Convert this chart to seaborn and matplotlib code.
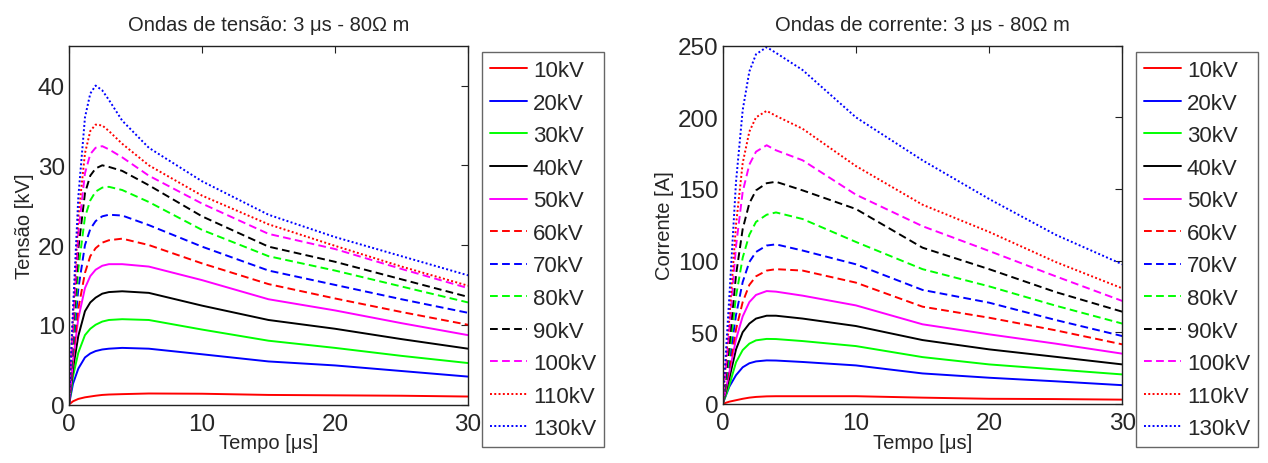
import numpy as np
import pandas as pd
import matplotlib
matplotlib.use("Agg")
import matplotlib.pyplot as plt
import seaborn as sns

# ---------------- data ----------------
labels = ["10kV", "20kV", "30kV", "40kV", "50kV", "60kV", "70kV",
          "80kV", "90kV", "100kV", "110kV", "130kV"]

# voltage waves (kV) sampled at these times (us)
t_v = [0, 0.3, 0.7, 1.2, 1.6, 2, 2.5, 3, 4, 6, 10, 15, 20, 25, 30]
v_10 = [0, 0.4, 0.7, 0.9, 1.0, 1.1, 1.2, 1.25, 1.3, 1.38, 1.35, 1.2, 1.15, 1.1, 1.0]
v_20 = [0, 2.6, 4.5, 5.9, 6.4, 6.7, 6.9, 7.0, 7.1, 7.0, 6.3, 5.4, 4.9, 4.2, 3.5]
v_30 = [0, 3.5, 6.5, 8.7, 9.5, 10.0, 10.4, 10.6, 10.7, 10.6, 9.4, 8.0, 7.1, 6.1, 5.2]
v_40 = [0, 4.5, 8.6, 11.7, 12.8, 13.4, 13.9, 14.1, 14.2, 14.0, 12.4, 10.6, 9.5, 8.2, 7.0]
v_50 = [0, 5.5, 10.8, 14.6, 16.1, 16.9, 17.4, 17.6, 17.6, 17.3, 15.6, 13.2, 11.8, 10.2, 8.7]
v_60 = [0, 6.0, 12.0, 16.5, 18.6, 19.6, 20.3, 20.6, 20.8, 20.0, 17.7, 15.1, 13.3, 11.6, 10.0]
v_70 = [0, 7.0, 14.5, 20.0, 22.0, 23.0, 23.6, 23.8, 23.7, 22.5, 19.8, 16.8, 15.0, 13.2, 11.5]
v_80 = [0, 8.0, 17.0, 23.5, 25.6, 26.7, 27.2, 27.3, 26.9, 25.4, 21.9, 18.6, 16.8, 14.8, 12.8]
v_90 = [0, 9.0, 19.5, 26.5, 28.7, 29.6, 30.0, 29.8, 29.3, 27.5, 23.6, 19.8, 17.9, 15.7, 13.5]
v_100 = [0, 10.0, 21.5, 29.0, 31.4, 32.2, 32.4, 32.0, 31.0, 28.7, 25.2, 21.4, 19.5, 17.0, 14.6]
v_110 = [0, 11.0, 23.5, 31.5, 34.3, 35.1, 35.0, 34.3, 32.7, 30.0, 26.2, 22.6, 19.9, 17.3, 14.9]
v_130 = [0, 12.0, 26.0, 36.0, 39.0, 40.0, 39.4, 38.2, 35.6, 32.2, 28.0, 23.8, 21.0, 18.6, 16.2]

# current waves (A)
t_i = [0, 0.5, 1, 1.5, 2, 2.5, 3.3, 4, 6, 10, 15, 20, 25, 30]
i_10 = [0, 1.5, 2.5, 3.5, 4.3, 4.8, 5.2, 5.3, 5.3, 5.3, 4.3, 3.5, 3.3, 2.9]
i_20 = [0, 12, 20, 25.5, 28.3, 29.6, 30.3, 30.2, 29.2, 26.8, 21.2, 18.2, 15.7, 13.0]
i_30 = [0, 13, 29, 37.5, 42, 44.3, 45.3, 45.2, 43.8, 40.3, 32.6, 27.5, 24.0, 20.5]
i_40 = [0, 18, 38, 50, 56, 59.5, 61.5, 61.5, 59.5, 54.3, 44.5, 38.0, 32.8, 27.5]
i_50 = [0, 22, 45, 61, 71, 76, 78.7, 78.3, 75.5, 68.7, 55.5, 48.5, 42.0, 35.0]
i_60 = [0, 25, 52, 71, 83, 89, 93, 94, 93, 84.6, 67.8, 60.1, 51.3, 41.5]
i_70 = [0, 30, 62, 85, 99, 106, 110.5, 111.3, 107, 97.4, 79.5, 70.6, 58.5, 47.3]
i_80 = [0, 35, 75, 102, 118, 127, 132, 133.6, 129, 113, 94, 82, 68.5, 56.0]
i_90 = [0, 42, 90, 122, 140, 149, 154, 155, 149, 136, 109, 94, 78, 64.3]
i_100 = [0, 52, 110, 148, 167, 176, 180.5, 177, 170, 146, 124, 106.7, 89, 71.8]
i_110 = [0, 60, 125, 168, 190, 200, 204.5, 201, 192, 166, 139, 120, 99, 80.6]
i_130 = [0, 75, 155, 205, 232, 244, 249, 245, 233, 200, 170, 143, 118, 97.4]

volt_series = [v_10, v_20, v_30, v_40, v_50, v_60, v_70, v_80, v_90, v_100, v_110, v_130]
curr_series = [i_10, i_20, i_30, i_40, i_50, i_60, i_70, i_80, i_90, i_100, i_110, i_130]

colors = ["#ff0000", "#0000ff", "#00ff00", "#000000", "#ff00ff"] * 2 + ["#ff0000", "#0000ff"]
styles = ["-"] * 5 + ["--"] * 5 + [":"] * 2

# ---------------- style ----------------
sns.set_style("white")
plt.rcParams["font.family"] = ["Liberation Sans", "DejaVu Sans"]
plt.rcParams["xtick.direction"] = "in"
plt.rcParams["ytick.direction"] = "in"

W, H = 1268, 464
fig = plt.figure(figsize=(W / 100, H / 100), dpi=100)

def px_axes(x0, y0, x1, y1):
    return fig.add_axes([x0 / W, 1 - y1 / H, (x1 - x0) / W, (y1 - y0) / H])

ax1 = px_axes(69, 46.7, 468, 405.5)
ax2 = px_axes(722.7, 46.7, 1122.3, 404.8)

def dash_for(ls):
    if ls == "--":
        return (4.0, 2.2)
    if ls == ":":
        return (1.0, 1.2)
    return None

def draw(ax, t, series, ylim, yticks, ylabel, title, legend_x):
    handles = []
    for lab, ys, c, ls in zip(labels, series, colors, styles):
        df = pd.DataFrame({"t": t, "y": ys})
        sns.lineplot(data=df, x="t", y="y", ax=ax, color=c, linewidth=1.4,
                     label=lab, legend=False)
        line = ax.get_lines()[-1]
        d = dash_for(ls)
        if d is not None:
            line.set_dashes(d)
        handles.append(line)
    ax.set_xlim(0, 30)
    ax.set_ylim(*ylim)
    ax.set_xticks([0, 10, 20, 30])
    ax.set_yticks(yticks)
    ax.tick_params(axis="both", which="both", labelsize=17.5, length=5, width=0.8,
                   top=True, right=True, color="#222222")
    ax.tick_params(axis="x", pad=6)
    ax.tick_params(axis="y", pad=3)
    for s in ax.spines.values():
        s.set_color("#222222")
        s.set_linewidth(1.0)
    ax.set_xlabel("Tempo [μs]", fontsize=14.5, labelpad=-1)
    ax.set_ylabel(ylabel, fontsize=14.5, labelpad=3)
    ax.set_title(title, fontsize=14.5, pad=11)
    leg = fig.legend(handles=handles, labels=labels, loc="upper left",
                     bbox_to_anchor=(legend_x / W, 1 - 53.3 / H),
                     borderaxespad=0, fontsize=16, handlelength=1.67,
                     handletextpad=0.27, labelspacing=0.52, borderpad=0.35,
                     fancybox=False, frameon=True)
    fr = leg.get_frame()
    fr.set_edgecolor("#666666")
    fr.set_linewidth(1.0)
    fr.set_alpha(1)

draw(ax1, t_v, volt_series, (0, 45), [0, 10, 20, 30, 40], "Tensão [kV]",
     "Ondas de tensão: 3 μs - 80Ω m", 482)
draw(ax2, t_i, curr_series, (0, 250), [0, 50, 100, 150, 200, 250], "Corrente [A]",
     "Ondas de corrente: 3 μs - 80Ω m", 1136)

fig.savefig("out.png", dpi=100)
